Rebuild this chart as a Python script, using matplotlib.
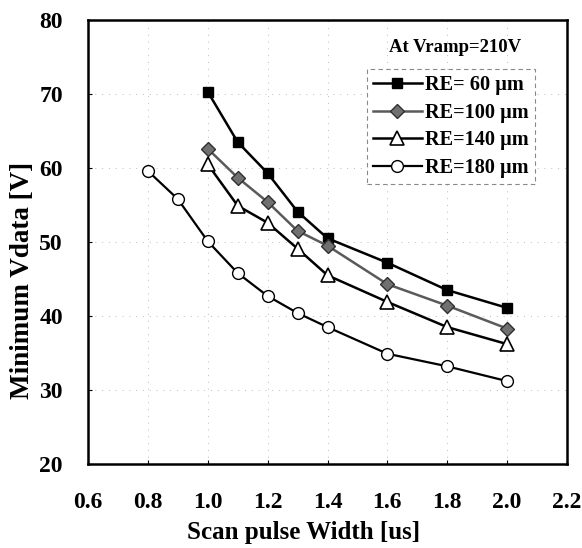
import matplotlib
matplotlib.use("Agg")
import matplotlib.pyplot as plt

x_60 = [1.0, 1.1, 1.2, 1.3, 1.4, 1.6, 1.8, 2.0]
y_60 = [70.3, 63.5, 59.3, 54.1, 50.5, 47.2, 43.5, 41.1]
x_100 = [1.0, 1.1, 1.2, 1.3, 1.4, 1.6, 1.8, 2.0]
y_100 = [62.6, 58.7, 55.4, 51.5, 49.5, 44.3, 41.4, 38.3]
x_140 = [1.0, 1.1, 1.2, 1.3, 1.4, 1.6, 1.8, 2.0]
y_140 = [60.5, 54.9, 52.6, 49.1, 45.5, 41.9, 38.5, 36.2]
x_180 = [0.8, 0.9, 1.0, 1.1, 1.2, 1.3, 1.4, 1.6, 1.8, 2.0]
y_180 = [59.6, 55.8, 50.1, 45.8, 42.7, 40.4, 38.5, 34.9, 33.2, 31.2]
labels = ["RE= 60 \u03bcm", "RE=100 \u03bcm", "RE=140 \u03bcm", "RE=180 \u03bcm"]
xticks = [0.6, 0.8, 1.0, 1.2, 1.4, 1.6, 1.8, 2.0, 2.2]
yticks = [20, 30, 40, 50, 60, 70, 80]

plt.rcParams['font.family'] = ['Liberation Serif', 'DejaVu Serif']
plt.rcParams['font.weight'] = 'bold'

fig = plt.figure(figsize=(5.82, 5.48), dpi=100)
ax = fig.add_axes([88/582, 1-464/548, (567-88)/582, (464-20)/548])

ax.plot(x_60, y_60, '-', color='black', lw=1.8, marker='s', ms=7.5,
        mfc='black', mec='black', label=labels[0], zorder=3)
ax.plot(x_100, y_100, '-', color='#5a5a5a', lw=1.8, marker='D', ms=7,
        mfc='#707070', mec='#303030', label=labels[1], zorder=3)
ax.plot(x_140, y_140, '-', color='black', lw=1.8, marker='^', ms=10,
        mfc='white', mec='black', mew=1.2, label=labels[2], zorder=3)
ax.plot(x_180, y_180, '-', color='black', lw=1.6, marker='o', ms=8.5,
        mfc='white', mec='black', mew=1.0, label=labels[3], zorder=3)

ax.set_xlim(0.6, 2.2)
ax.set_ylim(20, 80)
ax.set_xticks(xticks)
ax.set_xticklabels([f"{v:.1f}" for v in xticks])
ax.set_yticks(yticks)
ax.tick_params(axis='both', labelsize=17, direction='in', length=3, width=0.8)
ax.tick_params(axis='y', pad=18)
ax.tick_params(axis='x', pad=20)
for lab in ax.get_xticklabels() + ax.get_yticklabels():
    lab.set_fontweight('bold')

ax.grid(True, linestyle=(0, (1, 6)), color='#bbbbbb', lw=0.7, zorder=0)
for s in ax.spines.values():
    s.set_linewidth(1.8)

ax.set_xlabel("Scan pulse Width [us]", fontsize=18, fontweight='bold')
ax.set_ylabel("Minimum Vdata [V]", fontsize=19.5, fontweight='bold')
ax.xaxis.set_label_coords((304-88)/479, (464-533)/444)
ax.xaxis.label.set_va('center')
ax.yaxis.set_label_coords((23-88)/479, (464-280)/444)
ax.yaxis.label.set_va('center')

fig.text(455/582, 1-48/548, "At Vramp=210V", ha='center', va='center',
         fontsize=13.5, fontweight='bold')

leg = ax.legend(loc='upper left', bbox_to_anchor=(367/582, 1-69/548),
                bbox_transform=fig.transFigure, prop={'size': 14.6, 'weight': 'bold'},
                handlelength=2.4, handletextpad=0.15, labelspacing=0.38,
                borderpad=0.3, borderaxespad=0, fancybox=False, framealpha=1)
fr = leg.get_frame()
fr.set_edgecolor('#888888')
fr.set_linestyle((0, (4, 3)))
fr.set_linewidth(0.8)

fig.savefig("out.png", dpi=100)
